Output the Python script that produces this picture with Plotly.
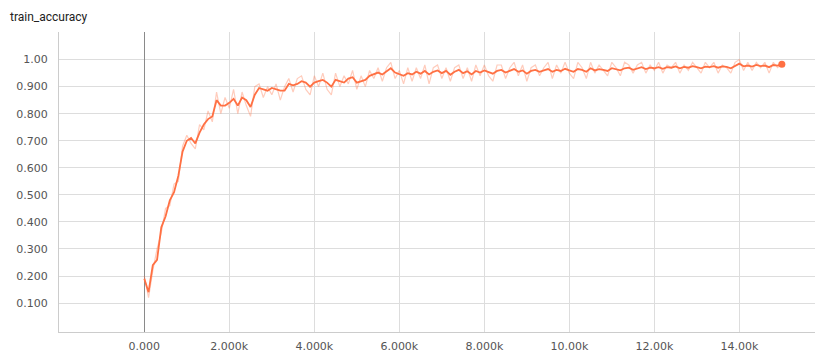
import plotly.graph_objects as go

# Training steps (one logged value every 100 steps)
steps = list(range(0, 15001, 100))

# Smoothed train accuracy
acc_smooth = [
    0.19, 0.14, 0.24, 0.26, 0.38, 0.42, 0.48, 0.51, 0.57, 0.66,
    0.70, 0.71, 0.69, 0.73, 0.76, 0.78, 0.79, 0.85, 0.83, 0.83,
    0.84, 0.855, 0.83, 0.86, 0.85, 0.825, 0.87, 0.895, 0.89, 0.885,
    0.895, 0.89, 0.885, 0.885, 0.91, 0.905, 0.91, 0.92, 0.915, 0.90,
    0.915, 0.92, 0.925, 0.915, 0.90, 0.925, 0.92, 0.915, 0.93, 0.935,
    0.915, 0.92, 0.925, 0.94, 0.945, 0.952, 0.945, 0.955, 0.968, 0.952,
    0.945, 0.94, 0.95, 0.945, 0.955, 0.948, 0.958, 0.945, 0.955, 0.96,
    0.95, 0.958, 0.944, 0.955, 0.962, 0.95, 0.957, 0.945, 0.958, 0.952,
    0.96, 0.955, 0.948, 0.958, 0.962, 0.952, 0.958, 0.965, 0.955, 0.96,
    0.948, 0.958, 0.962, 0.955, 0.96, 0.965, 0.955, 0.962, 0.958, 0.966,
    0.96, 0.955, 0.965, 0.962, 0.955, 0.968, 0.96, 0.965, 0.962, 0.958,
    0.968, 0.965, 0.96, 0.968, 0.97, 0.962, 0.968, 0.972, 0.965, 0.97,
    0.968, 0.972, 0.966, 0.972, 0.97, 0.975, 0.968, 0.973, 0.97, 0.976,
    0.972, 0.968, 0.974, 0.972, 0.976, 0.97, 0.975, 0.973, 0.968, 0.978,
    0.985, 0.975, 0.978, 0.974, 0.98, 0.976, 0.978, 0.972, 0.98, 0.978,
    0.983,
]

# Raw (unsmoothed) train accuracy
acc_raw = [
    0.20, 0.12, 0.22, 0.30, 0.36, 0.45, 0.46, 0.54, 0.55, 0.68,
    0.72, 0.69, 0.67, 0.76, 0.74, 0.81, 0.77, 0.88, 0.80, 0.86,
    0.82, 0.89, 0.80, 0.88, 0.83, 0.79, 0.90, 0.91, 0.86, 0.90,
    0.87, 0.91, 0.85, 0.90, 0.93, 0.88, 0.93, 0.94, 0.89, 0.87,
    0.94, 0.90, 0.95, 0.89, 0.87, 0.95, 0.90, 0.94, 0.91, 0.96,
    0.89, 0.94, 0.90, 0.96, 0.93, 0.97, 0.92, 0.97, 0.99, 0.93,
    0.96, 0.91, 0.97, 0.92, 0.97, 0.93, 0.98, 0.91, 0.97, 0.98,
    0.93, 0.97, 0.92, 0.97, 0.98, 0.93, 0.97, 0.92, 0.98, 0.94,
    0.98, 0.94, 0.92, 0.98, 0.98, 0.93, 0.97, 0.99, 0.94, 0.98,
    0.92, 0.97, 0.98, 0.94, 0.97, 0.99, 0.93, 0.98, 0.95, 0.99,
    0.95, 0.93, 0.99, 0.97, 0.93, 0.99, 0.95, 0.98, 0.96, 0.94,
    0.99, 0.97, 0.94, 0.99, 0.98, 0.95, 0.98, 0.99, 0.95, 0.98,
    0.96, 0.99, 0.95, 0.98, 0.97, 0.99, 0.95, 0.98, 0.96, 0.99,
    0.97, 0.95, 0.99, 0.97, 0.99, 0.95, 0.98, 0.97, 0.95, 0.99,
    1.00, 0.96, 0.99, 0.96, 0.99, 0.97, 0.99, 0.95, 0.99, 0.97,
    0.985,
]

x_tickvals = [0, 2000, 4000, 6000, 8000, 10000, 12000, 14000]
x_ticktext = ["0.000", "2.000k", "4.000k", "6.000k", "8.000k", "10.00k", "12.00k", "14.00k"]
y_tickvals = [0.1, 0.2, 0.3, 0.4, 0.5, 0.6, 0.7, 0.8, 0.9, 1.0]
y_ticktext = ["0.100", "0.200", "0.300", "0.400", "0.500", "0.600", "0.700", "0.800", "0.900", "1.00"]

assert len(steps) == len(acc_smooth) == len(acc_raw)

ORANGE = "#ff7043"
W, H = 815, 353

fig = go.Figure()
fig.add_trace(go.Scatter(
    x=steps, y=acc_raw, mode="lines",
    line=dict(color=ORANGE, width=1.2), opacity=0.35,
    hoverinfo="skip", showlegend=False,
))
fig.add_trace(go.Scatter(
    x=steps, y=acc_smooth, mode="lines",
    line=dict(color=ORANGE, width=1.8),
    showlegend=False,
))
fig.add_trace(go.Scatter(
    x=[steps[-1]], y=[acc_smooth[-1]], mode="markers",
    marker=dict(color=ORANGE, size=7),
    showlegend=False,
))

fig.update_layout(
    width=W, height=H,
    margin=dict(l=59, r=0, t=32, b=17),
    paper_bgcolor="white", plot_bgcolor="white",
    font=dict(family="DejaVu Sans, sans-serif", size=11, color="#555555"),
    title=dict(
        text="train_accuracy", x=10 / W, xanchor="left",
        y=1 - 17 / H, yanchor="middle",
        font=dict(family="Roboto, sans-serif", size=12, color="#212121"),
    ),
    xaxis=dict(
        range=[-2007, 15780],
        tickvals=x_tickvals, ticktext=x_ticktext,
        showgrid=True, gridcolor="#dddddd", gridwidth=1,
        zeroline=True, zerolinecolor="#8a8a8a", zerolinewidth=1,
        showline=True, linecolor="#cccccc", linewidth=1,
        ticks="", ticklabelstandoff=4,
    ),
    yaxis=dict(
        range=[-0.007, 1.102],
        tickvals=y_tickvals, ticktext=y_ticktext,
        showgrid=True, gridcolor="#dddddd", gridwidth=1,
        zeroline=False,
        showline=True, linecolor="#cccccc", linewidth=1,
        ticks="", ticklabelstandoff=8,
    ),
)

fig.write_html("out.html")
